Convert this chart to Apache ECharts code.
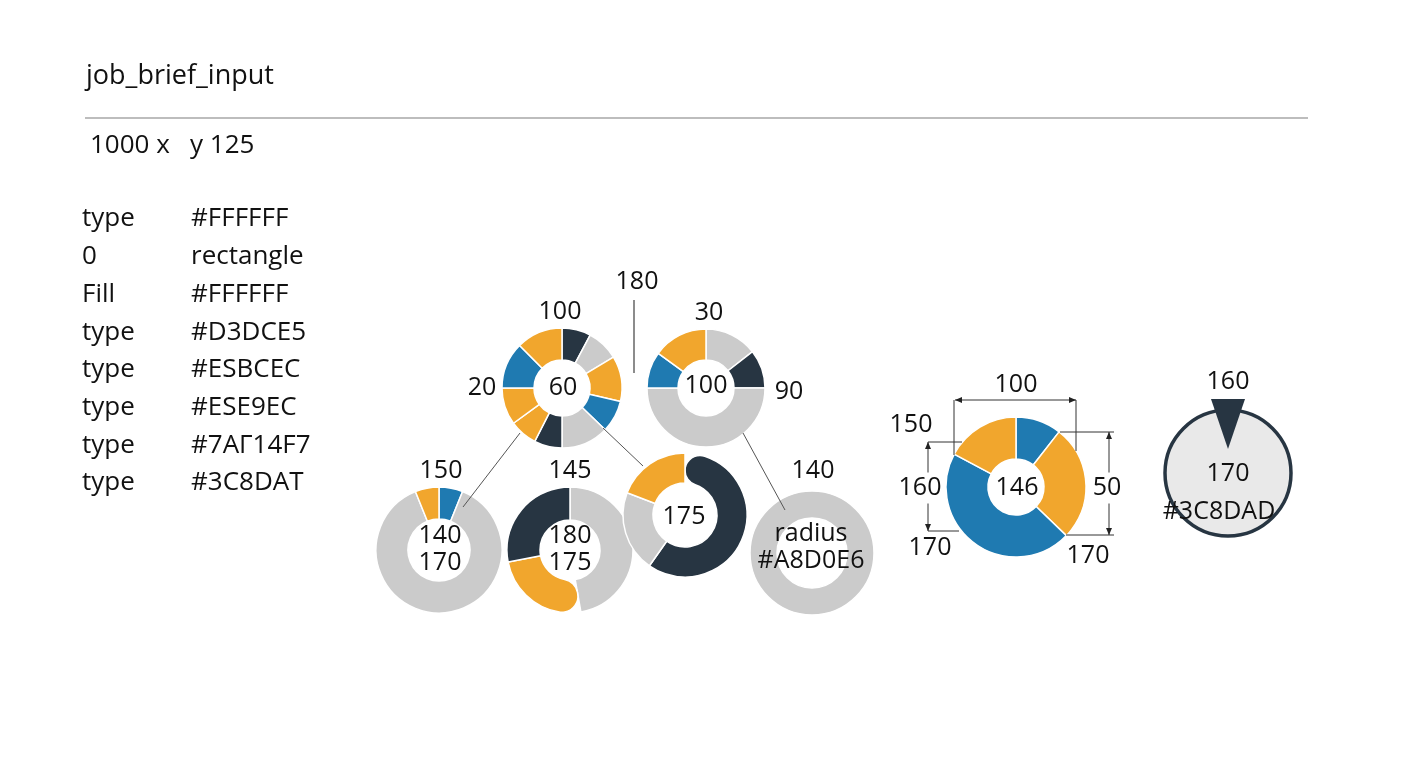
<!DOCTYPE html>
<html>
<head>
<meta charset="utf-8">
<script src="https://cdn.jsdelivr.net/npm/echarts@6/dist/echarts.min.js"></script>
<style>
html,body{margin:0;padding:0;background:#fff}
#chart{width:1408px;height:768px}
</style>
</head>
<body>
<div id="chart"></div>
<script>
// header + spec table texts
var headerTitle = 'job_brief_input';
var headerSize = '1000 x   y 125';
var specKeys = ['type', '0', 'Fill', 'type', 'type', 'type', 'type', 'type'];
var specValues = ['#FFFFFF', 'rectangle', '#FFFFFF', '#D3DCE5', '#ESBCEC', '#ESE9EC', '#7AΓ14F7', '#3C8DAT'];

// ring slices (degrees, clockwise from 12 o'clock) and their colour kind
var ringA = [28, 31, 44, 31, 46, 27, 27, 36, 45, 45];
var ringAKinds = ['dark', 'gray', 'orange', 'blue', 'gray', 'dark', 'orange', 'orange', 'blue', 'orange'];
var ringB = [52, 38, 180, 36, 54];
var ringBKinds = ['gray', 'dark', 'gray', 'blue', 'orange'];
var ringC = [22, 316, 22];
var ringCKinds = ['blue', 'gray', 'orange'];
var ringD = [170, 89, 101];
var ringDKinds = ['gray', 'orange', 'dark'];
var ringE = [215, 76, 69];
var ringEKinds = ['dark', 'gray', 'orange'];
var ringF = [360];
var ringFKinds = ['gray'];
var ringG = [38, 96, 164, 62];
var ringGKinds = ['blue', 'orange', 'blue', 'orange'];
var dialH = [360];

// texts on the rings
var ringTopText = ['100', '30', '150', '145', '140', '100', '160'];
var ringCenterText = ['60', '100', '140\n170', '180\n175', '175', 'radius\n#A8D0E6', '146', '170'];
var sideText = ['180', '20', '90'];
var dimText = ['150', '160', '170', '170', '50'];
var dialCode = '#3C8DAD';

var palette = { dark: '#273542', gray: '#cbcbcb', orange: '#f1a62d', blue: '#1f7ab1' };
var FONT = '25px "Open Sans", "Noto Sans", sans-serif';
var INK = '#111111';

var chart = echarts.init(document.getElementById('chart'));

function ring(values, kinds, center, radius, extra) {
	var data = values.map(function (v, i) {
		var d = { value: v, itemStyle: { color: palette[kinds[i]] } };
		if (extra && extra[i]) d.itemStyle = Object.assign(d.itemStyle, extra[i]);
		return d;
	});
	return {
		type: 'pie',
		center: center,
		radius: radius,
		startAngle: 90,
		clockwise: true,
		silent: true,
		label: { show: false },
		labelLine: { show: false },
		emphasis: { disabled: true },
		itemStyle: { borderColor: '#fff', borderWidth: 1.5 },
		data: data
	};
}

function txt(x, y, s, extra) {
	var st = {
		text: s, font: FONT, fill: INK,
		align: 'center', verticalAlign: 'middle',
		textAlign: 'center', textVerticalAlign: 'middle',
		lineHeight: 27
	};
	if (extra) Object.assign(st, extra);
	return { type: 'text', x: x, y: y, z: 10, style: st };
}

function seg(x1, y1, x2, y2, w, c) {
	return { type: 'line', z: 5, shape: { x1: x1, y1: y1, x2: x2, y2: y2 },
		style: { stroke: c || '#444', lineWidth: w || 1 } };
}

function arrow(x, y, dir) {
	// small arrow head, dir: 'l','r','u','d'
	var p;
	if (dir === 'l') p = [[x, y], [x + 7, y - 3], [x + 7, y + 3]];
	if (dir === 'r') p = [[x, y], [x - 7, y - 3], [x - 7, y + 3]];
	if (dir === 'u') p = [[x, y], [x - 3, y + 7], [x + 3, y + 7]];
	if (dir === 'd') p = [[x, y], [x - 3, y - 7], [x + 3, y - 7]];
	return { type: 'polygon', z: 6, shape: { points: p }, style: { fill: '#222' } };
}

var LEFT_FONT = '26px "Open Sans", "Noto Sans", sans-serif';
var graphics = [];
graphics.push(txt(86, 76, headerTitle, { align: 'left', textAlign: 'left', font: '27px "Open Sans", sans-serif' }));
graphics.push(seg(85, 118, 1308, 118, 2, '#bdbdbd'));
graphics.push(txt(90, 146, headerSize, { align: 'left', textAlign: 'left', font: LEFT_FONT }));
specKeys.forEach(function (k, i) {
	var y = 219 + i * 37.7;
	graphics.push(txt(82, y, k, { align: 'left', textAlign: 'left', font: LEFT_FONT }));
	graphics.push(txt(191, y, specValues[i], { align: 'left', textAlign: 'left', font: LEFT_FONT }));
});

// top labels
var topPos = [[560, 312], [709, 313], [441, 471], [570, 471], [813, 471], [1016, 385], [1228, 382]];
ringTopText.forEach(function (s, i) { graphics.push(txt(topPos[i][0], topPos[i][1], s)); });
// center labels
var centerPos = [[563, 388], [706, 386], [440, 549], [570, 549], [684, 517], [811, 547], [1017, 488], [1228, 474]];
ringCenterText.forEach(function (s, i) { graphics.push(txt(centerPos[i][0], centerPos[i][1], s)); });
graphics.push(txt(1219, 512, dialCode));
// side labels
graphics.push(txt(637, 282, sideText[0]));
graphics.push(seg(634, 300, 634, 373, 1.5, '#666'));
graphics.push(txt(482, 388, sideText[1]));
graphics.push(txt(789, 392, sideText[2]));

// connectors between rings
graphics.push(seg(520, 433, 463, 507, 1, '#555'));
graphics.push(seg(603, 428, 643, 466, 1, '#555'));
graphics.push(seg(743, 433, 785, 510, 1, '#555'));

// dimension marks of ring G
graphics.push(seg(955, 400, 1076, 400, 1, '#333'));
graphics.push(arrow(955, 400, 'l'));
graphics.push(arrow(1076, 400, 'r'));
graphics.push(seg(954, 400, 954, 455, 1, '#333'));
graphics.push(seg(1076, 400, 1076, 451, 1, '#333'));
graphics.push(seg(1109, 432, 1109, 535, 1, '#333'));
graphics.push(arrow(1109, 432, 'u'));
graphics.push(arrow(1109, 535, 'd'));
graphics.push(seg(1060, 432, 1114, 432, 1, '#333'));
graphics.push(seg(1066, 535, 1114, 535, 1, '#333'));
graphics.push(seg(928, 442, 928, 531, 1, '#333'));
graphics.push(arrow(928, 442, 'u'));
graphics.push(arrow(928, 531, 'd'));
graphics.push(seg(928, 442, 962, 442, 1, '#333'));
graphics.push(seg(928, 531, 959, 531, 1, '#333'));
var dimPos = [[911, 425], [920, 488], [930, 548], [1088, 556], [1107, 488]];
dimText.forEach(function (s, i) {
	var ex = (i === 1 || i === 4) ? { backgroundColor: '#fff', padding: [2, 1] } : null;
	graphics.push(txt(dimPos[i][0], dimPos[i][1], s, ex));
});

// pointer of the dial
graphics.push({ type: 'polygon', z: 8, shape: { points: [[1211, 399], [1245, 399], [1228, 449]] },
	style: { fill: '#273542' } });

var option = {
	backgroundColor: '#ffffff',
	animation: false,
	series: [
		ring(ringA, ringAKinds, [562, 388], [28, 60]),
		ring(ringB, ringBKinds, [706, 388], [28, 59]),
		ring(ringC, ringCKinds, [439, 550], [31, 63]),
		ring(ringD, ringDKinds, [570, 550], [30, 63], [null, { borderRadius: [16, 0, 16, 0] }, null]),
		ring(ringE, ringEKinds, [685, 515], [32, 62], [{ borderRadius: [15, 0, 15, 0] }, null, null]),
		ring(ringF, ringFKinds, [812, 553], [35, 62]),
		ring(ringG, ringGKinds, [1016, 487], [28, 70]),
		{
			type: 'pie', center: [1228, 473], radius: [0, 63], silent: true,
			label: { show: false }, labelLine: { show: false }, emphasis: { disabled: true },
			itemStyle: { color: '#e9e9e9', borderColor: '#273542', borderWidth: 3.5 },
			data: dialH
		}
	],
	graphic: { elements: graphics }
};
chart.setOption(option);
</script>
</body>
</html>
